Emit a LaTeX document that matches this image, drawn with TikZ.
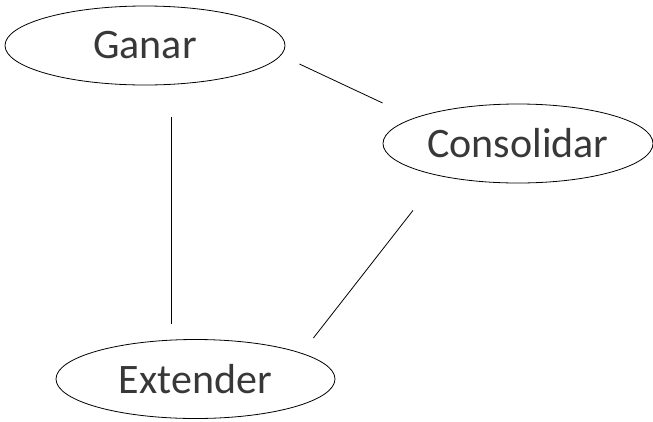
\documentclass[tikz,border=0pt]{standalone}
\usepackage{fontspec}
\setmainfont{Carlito}
\usepackage{tikz}
\usetikzlibrary{shapes.geometric}

\begin{document}
\begin{tikzpicture}[x=1pt, y=1pt,
  phase/.style={ellipse, draw=black, line width=0.8pt, inner sep=0pt,
    minimum height=79pt, text=black!78, font=\fontsize{42}{50}\selectfont},
  link/.style={line width=0.8pt, black}]
\useasboundingbox (0,0) rectangle (653,-421);
% ---- phases ----
\node[phase, minimum width=280pt] (ganar) at (145,-45.5) {Ganar};
\node[phase, minimum width=270pt] (consolidar) at (518,-143.5) {Consolidar};
\node[phase, minimum width=279pt] (extender) at (195.5,-379) {Extender};
% ---- links between phases ----
\draw[link] ([xshift=14pt, yshift=-18.5pt]ganar.east) -- ([yshift=40.5pt]consolidar.west);
\draw[link] ([xshift=26pt, yshift=-32pt]ganar.south) -- ([xshift=-24.5pt, yshift=15pt]extender.north);
\draw[link] ([xshift=-105pt, yshift=-27pt]consolidar.south) -- ([xshift=-22pt, yshift=41pt]extender.east);
\end{tikzpicture}
\end{document}
